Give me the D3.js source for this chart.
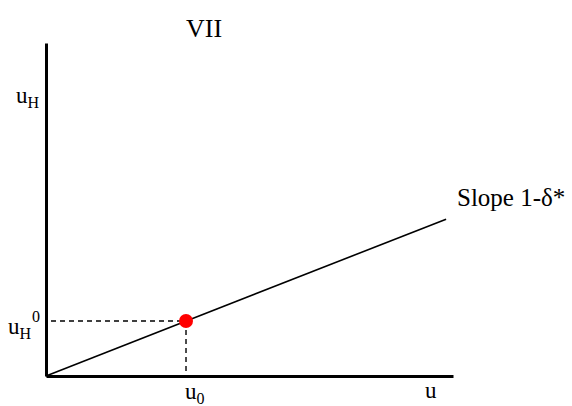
<!DOCTYPE html>
<html>
<head>
<meta charset="utf-8">
<script src="https://cdn.jsdelivr.net/npm/d3@7"></script>
<style>
  body { margin: 0; background: #fff; }
  text { font-family: "Liberation Serif", "Times New Roman", serif; fill: #000; }
</style>
</head>
<body>
<div id="wrapper"></div>
<script>
// data (arbitrary units)
const xDomain = [0, 10];
const yDomain = [0, 10];
const slopeLine = [[0, 0], [9.83, 4.71]];   // slope 1-δ*
const u0 = [3.44];
const uH0 = [1.65];

const dimension = {
    width: 572,
    height: 406,
    margin: { top: 43, left: 46, bottom: 30, right: 119 }
};
dimension.boundedWidth = dimension.width - dimension.margin.left - dimension.margin.right;
dimension.boundedHeight = dimension.height - dimension.margin.top - dimension.margin.bottom;

const svg = d3.select("#wrapper").append("svg")
    .attr("width", dimension.width)
    .attr("height", dimension.height);

const bounded = svg.append("g")
    .attr("transform", `translate(${dimension.margin.left},${dimension.margin.top})`);

const scaleX = d3.scaleLinear().domain(xDomain).range([0, dimension.boundedWidth]);
const scaleY = d3.scaleLinear().domain(yDomain).range([dimension.boundedHeight, 0]);

// dashed guides
bounded.append("line")
    .attr("x1", scaleX(0) + 5).attr("x2", scaleX(u0[0]))
    .attr("y1", scaleY(uH0[0])).attr("y2", scaleY(uH0[0]))
    .attr("stroke", "#000").attr("stroke-width", 1.4).attr("stroke-dasharray", "5,4");
bounded.append("line")
    .attr("x1", scaleX(u0[0])).attr("x2", scaleX(u0[0]))
    .attr("y1", scaleY(uH0[0])).attr("y2", scaleY(0))
    .attr("stroke", "#000").attr("stroke-width", 1.4).attr("stroke-dasharray", "5,4");

// slope line
bounded.append("path")
    .datum(slopeLine)
    .attr("d", d3.line().x(d => scaleX(d[0])).y(d => scaleY(d[1])))
    .attr("fill", "none")
    .attr("stroke", "#000")
    .attr("stroke-width", 1.6);

// point
bounded.append("circle")
    .attr("cx", scaleX(u0[0]))
    .attr("cy", scaleY(uH0[0]))
    .attr("r", 7)
    .attr("fill", "#f00");

// axes (domain lines only)
bounded.append("g")
    .attr("transform", `translate(0,${dimension.boundedHeight})`)
    .call(d3.axisBottom(scaleX).tickValues([]).tickSizeOuter(0));
bounded.append("g")
    .call(d3.axisLeft(scaleY).tickValues([]).tickSizeOuter(0));
svg.selectAll(".domain").attr("stroke", "#000").attr("stroke-width", 3);

// labels
svg.append("text")
    .attr("x", 204).attr("y", 37)
    .attr("text-anchor", "middle")
    .attr("font-size", "26px")
    .text("VII");

const uH = svg.append("text").attr("x", 16).attr("y", 103).attr("font-size", "23px");
uH.append("tspan").text("u");
uH.append("tspan").attr("dy", 5).attr("font-size", "16px").text("H");

const uH0Label = svg.append("text").attr("x", 8).attr("y", 334).attr("font-size", "23px");
uH0Label.append("tspan").text("u");
uH0Label.append("tspan").attr("dy", 5).attr("font-size", "16px").text("H");
uH0Label.append("tspan").attr("dy", -17).attr("dx", 1).attr("font-size", "16px").text("0");

const u0Label = svg.append("text").attr("x", 185).attr("y", 399).attr("font-size", "23px");
u0Label.append("tspan").text("u");
u0Label.append("tspan").attr("dy", 5).attr("font-size", "16px").text("0");

svg.append("text")
    .attr("x", 425).attr("y", 398)
    .attr("font-size", "23px")
    .text("u");

svg.append("text")
    .attr("x", 457).attr("y", 206)
    .attr("font-size", "25px")
    .text("Slope 1-δ*");
</script>
</body>
</html>
